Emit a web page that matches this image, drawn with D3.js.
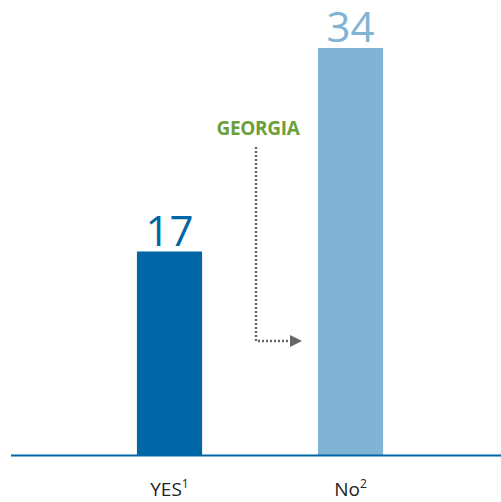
<!DOCTYPE html>
<html>
<head>
<meta charset="utf-8">
<script src="https://cdn.jsdelivr.net/npm/d3@7"></script>
<style>
  body { margin: 0; background: #fff; }
  svg { display: block; font-family: "Open Sans", "Noto Sans", sans-serif; }
</style>
</head>
<body>
<div id="chart"></div>
<script>
const categories = ["YES", "No"];
const footnotes = ["1", "2"];
const values = [17, 34];
const barColors = ["#0066a6", "#80b3d4"];
const annotationText = "GEORGIA";

const width = 501, height = 502;
const baseline = 455;

const svg = d3.select("#chart").append("svg")
  .attr("width", width)
  .attr("height", height);

const x = d3.scaleBand()
  .domain(categories)
  .range([79, 441])
  .paddingInner(0.64)
  .paddingOuter(0.32);

const y = d3.scaleLinear()
  .domain([0, 34])
  .range([baseline, 48]);

// bars
svg.selectAll("rect.bar")
  .data(values)
  .join("rect")
  .attr("class", "bar")
  .attr("x", (d, i) => x(categories[i]))
  .attr("width", x.bandwidth())
  .attr("y", d => y(d))
  .attr("height", d => baseline - y(d))
  .attr("fill", (d, i) => barColors[i]);

// value labels
svg.selectAll("text.value")
  .data(values)
  .join("text")
  .attr("class", "value")
  .attr("x", (d, i) => x(categories[i]) + x.bandwidth() / 2)
  .attr("y", d => y(d) - 6)
  .attr("text-anchor", "middle")
  .attr("font-size", 42)
  .attr("fill", (d, i) => barColors[i])
  .text(d => d);

// baseline
svg.append("line")
  .attr("x1", 11).attr("x2", width)
  .attr("y1", baseline + 0.5).attr("y2", baseline + 0.5)
  .attr("stroke", "#0066a6")
  .attr("stroke-width", 2);

// category labels with superscripts
const cat = svg.selectAll("text.cat")
  .data(categories)
  .join("text")
  .attr("class", "cat")
  .attr("x", d => x(d) + x.bandwidth() / 2)
  .attr("y", 496)
  .attr("text-anchor", "middle")
  .attr("font-size", 19)
  .attr("fill", "#222");
cat.append("tspan").text(d => d);
cat.append("tspan")
  .attr("font-size", 12)
  .attr("dy", -8)
  .text((d, i) => footnotes[i]);

// Georgia annotation
svg.append("text")
  .attr("x", 258)
  .attr("y", 135)
  .attr("text-anchor", "middle")
  .attr("font-size", 19)
  .attr("font-weight", "bold")
  .attr("letter-spacing", -0.3)
  .attr("fill", "#6a9f3a")
  .text(annotationText);

svg.append("defs").append("marker")
  .attr("id", "arrow")
  .attr("viewBox", "0 0 10 10")
  .attr("refX", 0).attr("refY", 5)
  .attr("markerUnits", "userSpaceOnUse")
  .attr("markerWidth", 12).attr("markerHeight", 15)
  .attr("orient", "auto")
  .append("path")
  .attr("d", "M0,0L10,5L0,10Z")
  .attr("fill", "#666");

svg.append("path")
  .attr("d", "M256,147V341H290")
  .attr("fill", "none")
  .attr("stroke", "#666")
  .attr("stroke-width", 2.5)
  .attr("stroke-dasharray", "2,2")
  .attr("marker-end", "url(#arrow)");
</script>
</body>
</html>
